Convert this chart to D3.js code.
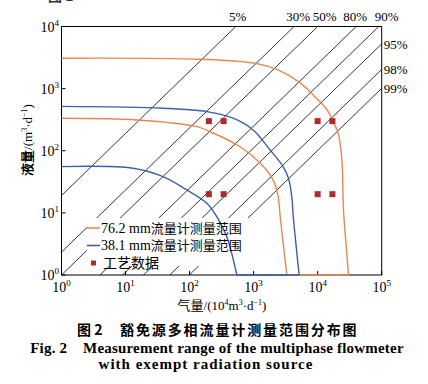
<!DOCTYPE html>
<html>
<head>
<meta charset="utf-8">
<script src="https://cdn.jsdelivr.net/npm/d3@7/dist/d3.min.js"></script>
<style>
  body { margin: 0; background: #fff; }
  svg { display: block; }
</style>
</head>
<body>
<div id="chart"></div>
<script>
// gas volume fraction reference lines
const gvfLevels = [0.05, 0.3, 0.5, 0.8, 0.9, 0.95, 0.98, 0.99];
const gvfTopLabels = ['5%', '30%', '50%', '80%', '90%'];
const gvfRightLabels = ['95%', '98%', '99%'];

const xTickExps = [0, 1, 2, 3, 4, 5];
const yTickExps = [0, 1, 2, 3, 4];

// [gas 10^4 m3/d, liquid m3/d]
const range76Upper = [[1, 3090], [146, 2973], [1055, 2565], [2415, 2000], [5330, 1236], [9140, 735],
  [14070, 454], [17450, 291], [20900, 194], [23900, 71], [25300, 11.1], [27400, 3.66], [30300, 1]];
const range76Lower = [[1, 334], [15, 313], [130, 244], [233, 193], [615, 116], [1265, 63.6],
  [2020, 33.9], [2415, 18.2], [2600, 8.7], [3300, 1]];
const range38Upper = [[1, 517], [38.5, 483], [186, 427], [479, 334], [982, 216], [1810, 103],
  [2890, 55.5], [3500, 36], [3950, 18], [4150, 9], [5140, 1]];
const range38Lower = [[1, 55.5], [13.1, 52.3], [38.5, 38.3], [90.4, 23.4], [186, 14.3],
  [266, 8.7], [381, 4.14], [547, 1]];

const processGas = [200, 340, 10000, 17000];
const processLiquid = [300, 20];

const legendLabels = ['76.2 mm流量计测量范围', '38.1 mm流量计测量范围', '工艺数据'];

const orange = '#ea8750';
const blue = '#3e5ca8';
const red = '#ae2a2e';

const W = 428, H = 384;
const plot = { left: 61.5, right: 381.7, top: 26.5, bottom: 275 };
const serif = '"Liberation Serif", "DejaVu Serif", serif';
const cjk = '"Noto Sans CJK SC", sans-serif';

const svg = d3.select('#chart').append('svg')
  .attr('width', W)
  .attr('height', H);

const x = d3.scaleLog().domain([1, 1e5]).range([plot.left, plot.right]);
const y = d3.scaleLog().domain([1, 1e4]).range([plot.bottom, plot.top]);

// clipped-off bottom of the previous caption
svg.append('text')
  .attr('x', 48).attr('y', 1)
  .style('font-family', cjk).style('font-size', '14px').style('font-weight', 'bold')
  .style('fill', '#333')
  .text('图 1');

svg.append('clipPath').attr('id', 'plotClip')
  .append('rect')
  .attr('x', plot.left).attr('y', plot.top)
  .attr('width', plot.right - plot.left).attr('height', plot.bottom - plot.top);

const gvfLayer = svg.append('g').attr('clip-path', 'url(#plotClip)');
gvfLevels.forEach(g => {
  const ratio = (1 - g) / g;
  gvfLayer.append('line')
    .attr('x1', x(1e-3)).attr('y1', y(1e-3 * ratio))
    .attr('x2', x(1e7)).attr('y2', y(1e7 * ratio))
    .style('stroke', '#000')
    .style('stroke-width', 0.8);
});

// top and right GVF labels
const topNudge = [2, 4, 7, -1, 8];
gvfLevels.slice(0, 5).forEach((g, i) => {
  svg.append('text')
    .attr('x', x(1e4 * g / (1 - g)) + topNudge[i])
    .attr('y', 21)
    .attr('text-anchor', 'middle')
    .style('font-family', serif).style('font-size', '13px')
    .text(gvfTopLabels[i]);
});
gvfLevels.slice(5).forEach((g, i) => {
  svg.append('text')
    .attr('x', plot.right + 2)
    .attr('y', y(1e5 * (1 - g) / g) + 5)
    .style('font-family', serif).style('font-size', '13px')
    .text(gvfRightLabels[i]);
});

// legend background hides the reference lines underneath
svg.append('rect')
  .attr('x', 87).attr('y', 218)
  .attr('width', 161).attr('height', 48)
  .style('fill', '#fff');

// frame and inward ticks
svg.append('rect')
  .attr('x', plot.left).attr('y', plot.top)
  .attr('width', plot.right - plot.left).attr('height', plot.bottom - plot.top)
  .style('fill', 'none').style('stroke', '#000').style('stroke-width', 1);

xTickExps.forEach(e => {
  const px = x(Math.pow(10, e));
  svg.append('line')
    .attr('x1', px).attr('x2', px)
    .attr('y1', plot.bottom).attr('y2', plot.bottom - 4)
    .style('stroke', '#000');
  const t = svg.append('text')
    .attr('x', px).attr('y', 292)
    .attr('text-anchor', 'middle')
    .style('font-family', serif).style('font-size', '14px');
  t.append('tspan').text('10');
  t.append('tspan').attr('dy', -6).style('font-size', '9px').text(e);
});

yTickExps.forEach(e => {
  const py = y(Math.pow(10, e));
  svg.append('line')
    .attr('x1', plot.left).attr('x2', plot.left + 4)
    .attr('y1', py).attr('y2', py)
    .style('stroke', '#000');
  const t = svg.append('text')
    .attr('x', 59).attr('y', py + 5)
    .attr('text-anchor', 'end')
    .style('font-family', serif).style('font-size', '14px');
  t.append('tspan').text('10');
  t.append('tspan').attr('dy', -6).style('font-size', '9px').text(e);
});

// range curves
const curveLine = d3.line()
  .x(d => x(d[0]))
  .y(d => y(d[1]))
  .curve(d3.curveCatmullRom.alpha(0.5));

function drawRange(upper, lower, color) {
  svg.append('path').datum(upper).attr('d', curveLine)
    .style('fill', 'none').style('stroke', color).style('stroke-width', 1.4);
  svg.append('path').datum(lower).attr('d', curveLine)
    .style('fill', 'none').style('stroke', color).style('stroke-width', 1.4);
  svg.append('line')
    .attr('x1', x(lower[lower.length - 1][0])).attr('x2', x(upper[upper.length - 1][0]))
    .attr('y1', plot.bottom).attr('y2', plot.bottom)
    .style('stroke', color).style('stroke-width', 1.4);
}
drawRange(range76Upper, range76Lower, orange);
drawRange(range38Upper, range38Lower, blue);

// process data points
const points = [];
processLiquid.forEach(l => processGas.forEach(g => points.push([g, l])));
svg.selectAll('.pt')
  .data(points)
  .enter().append('rect')
  .attr('class', 'pt')
  .attr('x', d => x(d[0]) - 3)
  .attr('y', d => y(d[1]) - 3)
  .attr('width', 6).attr('height', 6)
  .style('fill', red);

// legend
const legendY = [228, 245.5, 263];
const legendColors = [orange, blue, red];
legendLabels.forEach((label, i) => {
  if (i < 2) {
    svg.append('line')
      .attr('x1', 87).attr('x2', 100)
      .attr('y1', legendY[i]).attr('y2', legendY[i])
      .style('stroke', legendColors[i]).style('stroke-width', 1.6);
  } else {
    svg.append('rect')
      .attr('x', 91).attr('y', legendY[i] - 2.5)
      .attr('width', 5).attr('height', 5)
      .style('fill', legendColors[i]);
  }
  const t = svg.append('text')
    .attr('x', i < 2 ? 101 : 103)
    .attr('y', legendY[i] + 4.5)
    .style('font-size', '13px');
  const m = label.match(/^([\d.]+ mm)(.*)$/);
  if (m) {
    t.append('tspan').style('font-family', serif).style('font-size', '14px').text(m[1]);
    t.append('tspan').style('font-family', cjk).text(m[2]);
  } else {
    t.append('tspan').style('font-family', cjk).style('font-size', '14px').text(label);
  }
});

// axis titles
const xt = svg.append('text')
  .attr('x', 222).attr('y', 310)
  .attr('text-anchor', 'middle')
  .style('font-family', serif).style('font-size', '13px');
xt.append('tspan').style('font-family', cjk).text('气量');
xt.append('tspan').text('/(10');
xt.append('tspan').attr('dy', -5).style('font-size', '8px').text('4');
xt.append('tspan').attr('dy', 5).text('m');
xt.append('tspan').attr('dy', -5).style('font-size', '8px').text('3');
xt.append('tspan').attr('dy', 5).text('·d');
xt.append('tspan').attr('dy', -5).style('font-size', '8px').text('−1');
xt.append('tspan').attr('dy', 5).text(')');

const yt = svg.append('text')
  .attr('transform', 'translate(32,140) rotate(-90)')
  .attr('text-anchor', 'middle')
  .style('font-family', serif).style('font-size', '13px');
yt.append('tspan').style('font-family', cjk).style('font-weight', 'bold').text('液量');
yt.append('tspan').text('/(m');
yt.append('tspan').attr('dy', -5).style('font-size', '8px').text('3');
yt.append('tspan').attr('dy', 5).text('·d');
yt.append('tspan').attr('dy', -5).style('font-size', '8px').text('−1');
yt.append('tspan').attr('dy', 5).text(')');

// captions
svg.append('text')
  .attr('x', 77).attr('y', 335)
  .style('font-family', cjk).style('font-size', '14px').style('font-weight', 'bold')
  .text('图 2');
svg.append('text')
  .attr('x', 120).attr('y', 335)
  .style('font-family', cjk).style('font-size', '14px').style('font-weight', 'bold')
  .style('letter-spacing', '1.9px')
  .text('豁免源多相流量计测量范围分布图');
svg.append('text')
  .attr('x', 217).attr('y', 353)
  .attr('text-anchor', 'middle')
  .style('font-family', serif).style('font-size', '15px').style('font-weight', 'bold')
  .attr('xml:space', 'preserve')
  .style('letter-spacing', '0.2px')
  .text('Fig. 2    Measurement range of the multiphase flowmeter');
svg.append('text')
  .attr('x', 206).attr('y', 369)
  .attr('text-anchor', 'middle')
  .style('font-family', serif).style('font-size', '15px').style('font-weight', 'bold')
  .style('letter-spacing', '1px')
  .text('with exempt radiation source');
</script>
</body>
</html>
